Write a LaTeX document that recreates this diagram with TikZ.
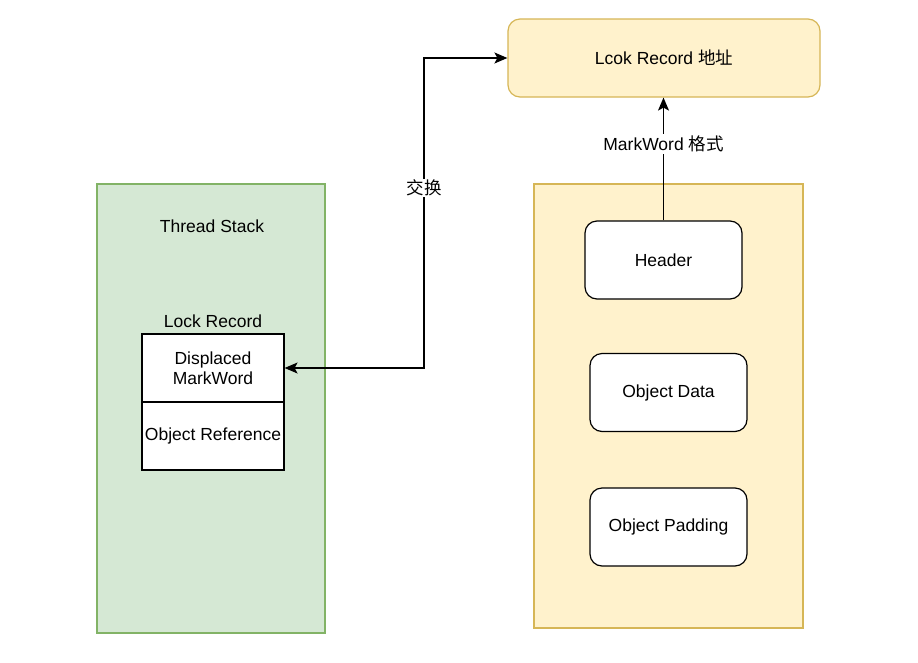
\documentclass[tikz,border=0pt]{standalone}
\usepackage{fontspec}
\setmainfont{Liberation Sans}
\newfontfamily\cjk{Noto Sans CJK SC}
\usetikzlibrary{arrows.meta}

\definecolor{stackfill}{HTML}{D5E8D4}
\definecolor{stackline}{HTML}{82B366}
\definecolor{heapfill}{HTML}{FFF2CC}
\definecolor{heapline}{HTML}{D6B656}

\tikzset{
    part/.style={draw=black, fill=white, rounded corners=12pt, line width=1.2pt,
        minimum width=157pt, minimum height=78pt},
    cell/.style={draw=black, fill=white, line width=1.2pt, inner xsep=1pt,
        minimum width=142pt, minimum height=68pt, align=center},
    link/.style={line width=1.3pt, >={Stealth[length=13pt,width=11pt,inset=3pt]}}
}

\begin{document}
\begin{tikzpicture}[x=1pt, y=-1pt, font=\fontsize{17.5}{20.5}\selectfont]
    \useasboundingbox (0,0) rectangle (918,662);

    % containers
    \node[draw=stackline, fill=stackfill, line width=1.2pt,
        minimum width=228pt, minimum height=449pt] (stack) at (211,408.5) {};
    \node[draw=heapline, fill=heapfill, line width=1.2pt,
        minimum width=269pt, minimum height=444pt] (heap) at (668.5,406) {};
    \node (stacktitle) at (212,226) {Thread Stack};

    % lock record
    \node (lrtitle) at (213,321) {Lock Record};
    \node[cell] (disp) at (213,368) {Displaced\\MarkWord};
    \node[cell] (oref) at (213,436) {Object Reference};

    % object
    \node[part] (header) at (663.5,260) {Header};
    \node[part] (odata) at (668.5,392.5) {Object Data};
    \node[part] (opad) at (668.5,527) {Object Padding};

    \node[part, draw=heapline, fill=heapfill, minimum width=312pt] (addr) at (664,58)
        {Lcok Record {\cjk 地址}};

    % connectors
    \coordinate (xchg) at (424,188);
    \draw[link, <->] (disp.east) -| (xchg) |- (addr.west);
    \node[fill=white, inner sep=1pt] (xchglabel) at (xchg) {\cjk 交换};

    \draw[link, ->] (header.north) -- (header.north |- addr.south)
        node[pos=0.62, fill=white, inner sep=2pt] (fmt) {MarkWord {\cjk 格式}};
\end{tikzpicture}
\end{document}
